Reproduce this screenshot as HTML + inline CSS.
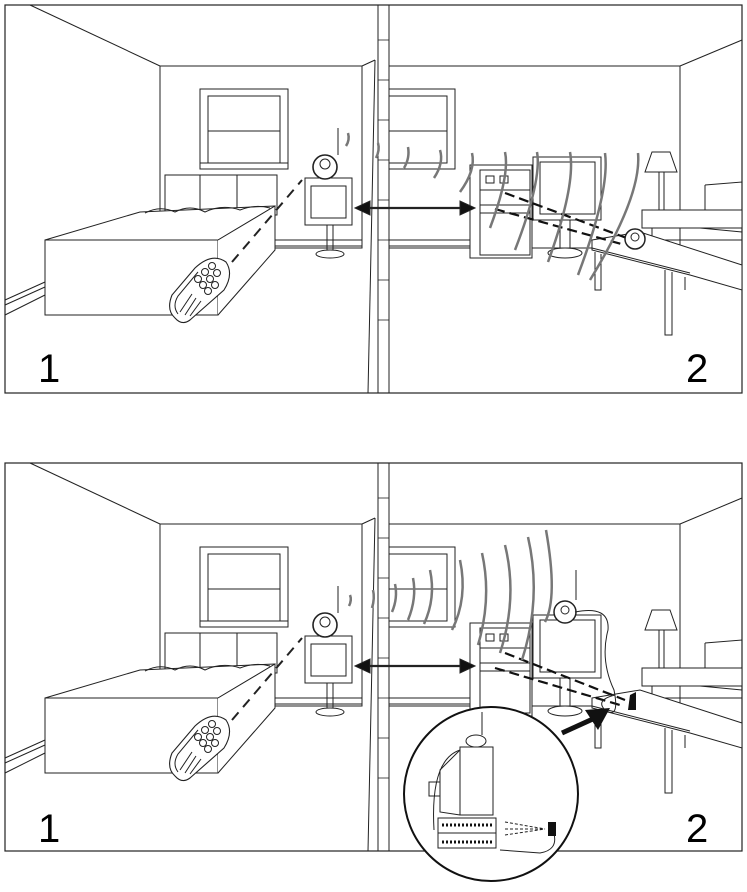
<!DOCTYPE html>
<html><head><meta charset="utf-8"><style>
html,body{margin:0;padding:0;background:#fff;}
svg{display:block;}
text{font-family:"Liberation Sans",sans-serif;}
</style></head><body>
<svg width="747" height="892" viewBox="0 0 747 892" xmlns="http://www.w3.org/2000/svg">
<defs>
<g id="room" fill="none" stroke="#222" stroke-width="1">
  <rect x="5" y="5" width="737" height="388" stroke-width="1.2"/>
  <line x1="378" y1="5" x2="378" y2="393"/>
  <line x1="389" y1="5" x2="389" y2="393"/>
  <line x1="375" y1="60" x2="368" y2="393"/>
  <g stroke-width="0.8">
    <line x1="378" y1="40" x2="389" y2="40"/><line x1="378" y1="80" x2="389" y2="80"/>
    <line x1="378" y1="120" x2="389" y2="120"/><line x1="378" y1="160" x2="389" y2="160"/>
    <line x1="378" y1="200" x2="389" y2="200"/><line x1="378" y1="240" x2="389" y2="240"/>
    <line x1="378" y1="280" x2="389" y2="280"/><line x1="378" y1="320" x2="389" y2="320"/>
  </g>
  <line x1="30" y1="5" x2="160" y2="66"/>
  <rect x="160" y="66" width="202" height="182"/>
  <line x1="362" y1="66" x2="375" y2="60"/>
  <line x1="5" y1="315" x2="45" y2="295"/>
  <line x1="5" y1="300" x2="45" y2="282"/>
  <line x1="5" y1="305" x2="45" y2="287"/>
  <line x1="275" y1="240" x2="362" y2="240"/>
  <line x1="275" y1="246" x2="362" y2="246"/>
  <rect x="200" y="89" width="88" height="80"/>
  <rect x="208" y="96" width="72" height="35"/>
  <rect x="208" y="131" width="72" height="32"/>
  <rect x="200" y="163" width="88" height="6"/>
  <rect x="165" y="175" width="112" height="40"/>
  <line x1="200" y1="175" x2="200" y2="210"/><line x1="237" y1="175" x2="237" y2="210"/>
  <path d="M45 240 L140 212 L275 206 L218 240 Z" fill="#fff"/>
  <rect x="45" y="240" width="173" height="75" fill="#fff"/>
  <path d="M218 240 L275 206 L275 250 L218 315" fill="#fff"/>
  <path d="M145 213 Q160 205 175 212 Q190 204 205 212 Q222 204 240 210 Q255 204 270 208"/>
  <!-- remote -->
  <path d="M175 318 Q166 310 172 295 L195 268 Q212 252 226 262 Q234 274 224 290 L190 320 Q182 326 175 318 Z" fill="#fff" stroke-width="1.1"/>
  <path d="M178 314 Q172 306 178 296 L198 272" />
  <circle cx="198" cy="279" r="3.5"/><circle cx="205" cy="272" r="3.5"/><circle cx="212" cy="266" r="3.5"/>
  <circle cx="203" cy="285" r="3.5"/><circle cx="210" cy="279" r="3.5"/><circle cx="217" cy="273" r="3.5"/>
  <circle cx="208" cy="291" r="3.5"/><circle cx="215" cy="285" r="3.5"/>
  <path d="M180 312 L192 294 M185 315 L196 298 M190 316 L201 301"/>
  <!-- monitor stand -->
  <rect x="305" y="178" width="47" height="47" fill="#fff"/>
  <rect x="311" y="186" width="35" height="32"/>
  <rect x="327" y="225" width="6" height="25"/>
  <ellipse cx="330" cy="254" rx="14" ry="4"/>
  <circle cx="325" cy="167" r="12" fill="#fff" stroke-width="1.6"/>
  <circle cx="325" cy="164" r="5"/>
  <line x1="338" y1="155" x2="338" y2="128"/>
  <!-- right room -->
  <rect x="389" y="66" width="291" height="182"/>
  <line x1="680" y1="66" x2="742" y2="40"/>
  <line x1="389" y1="240" x2="470" y2="240"/>
  <line x1="389" y1="246" x2="470" y2="246"/>
  <rect x="389" y="89" width="66" height="80"/>
  <rect x="389" y="96" width="58" height="35"/>
  <rect x="389" y="131" width="58" height="32"/>
  <rect x="470" y="165" width="62" height="93" fill="#fff"/>
  <rect x="480" y="170" width="50" height="85"/>
  <rect x="486" y="176" width="8" height="7"/><rect x="500" y="176" width="8" height="7"/>
  <line x1="480" y1="190" x2="530" y2="190"/><line x1="480" y1="205" x2="530" y2="205"/><line x1="480" y1="213" x2="530" y2="213"/>
  <rect x="533" y="157" width="68" height="63" fill="#fff"/>
  <rect x="540" y="162" width="55" height="52"/>
  <rect x="560" y="220" width="10" height="28"/>
  <ellipse cx="565" cy="253" rx="17" ry="5"/>
  <path d="M652 152 L670 152 L677 172 L645 172 Z"/>
  <rect x="659" y="172" width="5" height="40"/>
  <!-- sofa -->
  <path d="M705 185 L742 182 L742 225 M705 185 L705 212" />
  <rect x="642" y="210" width="100" height="18" fill="#fff"/>
  <path d="M652 228 L652 250 M652 240 L742 240 M700 228 L742 232"/>
  <!-- table -->
  <path d="M592 240 L640 232 L742 265 L742 290 L690 275 L592 250 Z" fill="#fff"/>
  <path d="M592 248 L690 273"/>
  <path d="M595 252 L595 290 L601 290 L601 254 M665 270 L665 335 L672 335 L672 272 M685 277 L685 290"/>
  <line x1="368" y1="208" x2="460" y2="208" stroke-width="2.2"/>
  <path d="M355 208 L370 201 L370 215 Z" fill="#111"/>
  <path d="M475 208 L460 201 L460 215 Z" fill="#111"/>
  <line x1="232" y1="262" x2="302" y2="180" stroke-width="2" stroke-dasharray="10,7"/>
</g>
</defs>

<use href="#room"/>
<g fill="none" stroke="#111" stroke-width="2.2" stroke-dasharray="10,5">
  <line x1="505" y1="193" x2="632" y2="240"/>
  <line x1="495" y1="209" x2="625" y2="245"/>
</g>
<circle cx="635" cy="239" r="10" fill="#fff" stroke="#222" stroke-width="1.5"/>
<circle cx="635" cy="237" r="4" fill="none" stroke="#222"/>
<g fill="none" stroke="#777" stroke-width="2.5">
  <path d="M348 133 Q350 140 346 146"/>
  <path d="M378 143 Q380 150 376 158"/>
  <path d="M408 147 Q410 158 404 168"/>
  <path d="M440 150 Q444 163 434 178"/>
  <path d="M472 153 Q476 170 460 192"/>
  <path d="M505 152 Q510 175 490 228"/>
  <path d="M537 152 Q542 180 515 250"/>
  <path d="M570 152 Q576 185 548 262"/>
  <path d="M605 153 Q610 190 578 275"/>
  <path d="M638 153 Q642 195 590 280"/>
</g>
<text x="38" y="382" font-size="40">1</text>
<text x="686" y="382" font-size="40">2</text>

<use href="#room" transform="translate(0,458)"/>
<g fill="none" stroke="#111" stroke-width="2.2" stroke-dasharray="10,5">
  <line x1="505" y1="653" x2="625" y2="700"/>
  <line x1="495" y1="668" x2="620" y2="705"/>
</g>
<path d="M630 695 L636 692 L636 710 L628 710 Z" fill="#111"/>
<circle cx="565" cy="612" r="11" fill="#fff" stroke="#222" stroke-width="1.5"/>
<circle cx="565" cy="610" r="4" fill="none" stroke="#222"/>
<line x1="576" y1="600" x2="576" y2="570" stroke="#222"/>
<path d="M575 612 Q610 605 608 630 Q600 660 614 690 Q620 720 605 710 Q595 700 615 695" fill="none" stroke="#222"/>
<g fill="none" stroke="#777" stroke-width="2.5">
  <path d="M350 595 Q352 600 349 606"/>
  <path d="M373 590 Q375 598 372 608"/>
  <path d="M395 584 Q398 598 392 612"/>
  <path d="M413 578 Q417 598 408 620"/>
  <path d="M430 570 Q436 598 424 624"/>
  <path d="M460 560 Q468 598 452 630"/>
  <path d="M482 553 Q492 598 478 645"/>
  <path d="M505 545 Q518 598 500 653"/>
  <path d="M528 537 Q542 598 522 660"/>
  <path d="M546 530 Q558 598 545 622"/>
</g>
<line x1="562" y1="733" x2="595" y2="718" stroke="#111" stroke-width="5"/>
<path d="M610 708 L585 710 L598 730 Z" fill="#111"/>
<circle cx="491" cy="794" r="87" fill="#fff" stroke="#111" stroke-width="2"/>
<g fill="none" stroke="#222" stroke-width="1">
  <rect x="460" y="747" width="33" height="68"/>
  <path d="M460 750 L440 770 L440 812 L460 815"/>
  <rect x="429" y="782" width="11" height="14"/>
  <ellipse cx="476" cy="741" rx="10" ry="6" fill="#fff"/>
  <line x1="482" y1="735" x2="482" y2="712"/>
  <rect x="438" y="818" width="58" height="30"/>
  <line x1="438" y1="833" x2="496" y2="833"/>
  <path d="M505 822 L545 829 M505 835 L545 829 M505 829 L545 829" stroke-dasharray="3,2"/>
  <path d="M554 834 Q558 850 540 853 L500 850"/>
  <path d="M460 750 Q430 760 434 830"/>
</g>
<rect x="548" y="822" width="8" height="14" fill="#111"/>
<g stroke="#111" stroke-width="3" stroke-dasharray="2,2">
  <line x1="442" y1="825" x2="494" y2="825"/>
  <line x1="442" y1="842" x2="494" y2="842"/>
</g>
<rect x="0" y="882" width="747" height="10" fill="#fff"/>
<text x="38" y="842" font-size="40">1</text>
<text x="686" y="842" font-size="40">2</text>
</svg>
</body></html>
